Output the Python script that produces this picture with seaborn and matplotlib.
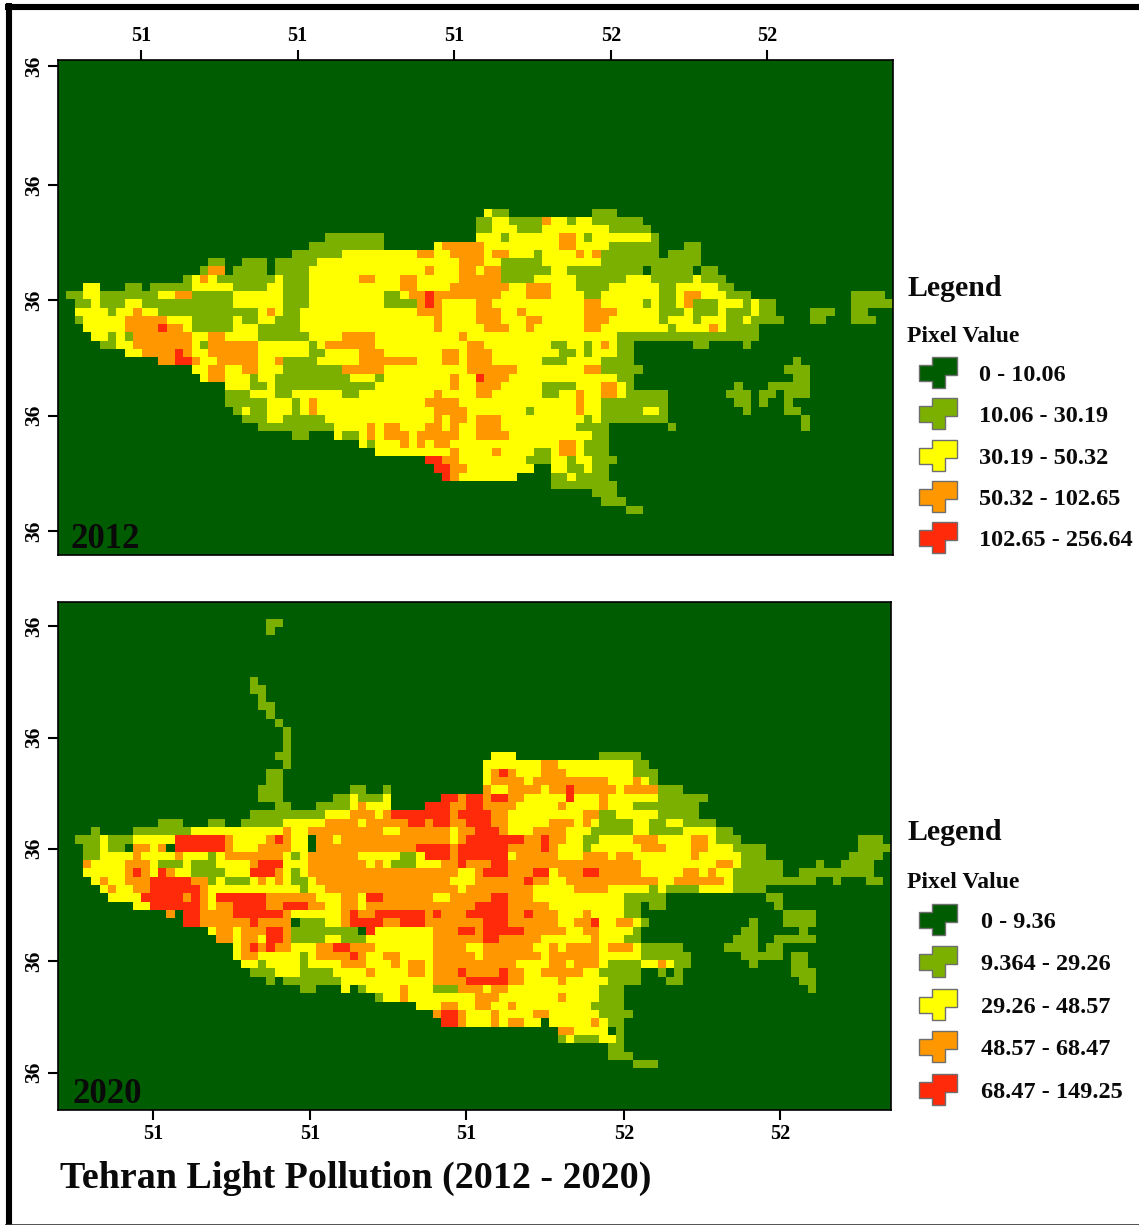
import numpy as np
import pandas as pd
import matplotlib
matplotlib.use('Agg')
import matplotlib.pyplot as plt
import seaborn as sns
from matplotlib.colors import ListedColormap
from matplotlib.patches import Polygon

# classes per raster cell, written as spans: letter + first-last column
# k=0 g=1 y=2 o=3 r=4, later spans overwrite earlier ones
class_codes = {'k': 0, 'g': 1, 'y': 2, 'o': 3, 'r': 4}
class_colors = ['#005c00', '#7bb000', '#ffff00', '#ff9800', '#ff2a0a']

first_row_2012 = 18
rows_2012 = [
    "y51 g52-53 g64-66",
    "g50-51 y52-53 g54-57 y58-63 o58 g61 g64-69",
    "g50-51 y52-54 g55-57 y58-65 g66-70",
    "g32-38 y50-70 g53 o60-61 g63 g71",
    "g30-38 y45 o46-50 y51-65 o60-61 g66-71 g75-76",
    "g28-33 y34-46 o43 o44 o47-50 y51-64 o52-53 g57 o62 o64 g65-71 g73-76",
    "g18-19 g22-24 g26-30 y31-47 o48-50 y51-64 g53-57 g65-76",
    "g17-19 o18-19 g21-24 g26-29 y30-49 o44 o48-49 y50-52 o51-52 g53-58 y59-60 g61-75 k70 g77-78",
    "g15-16 y16 o17 y18 g19-25 y26 g27-29 y30-49 o36-37 o41-42 o48-52 g53-56 y57-61 g62-67 y68-70 g71-75 y76-77 g77-79",
    "y3-4 g8-9 g11-15 y16-20 g21-24 y25-26 g27-29 y30-47 o41-42 o47-53 y54-55 o56-58 y59-61 g62-65 y66-71 g72-73 y74-78 g79-80",
    "g1-3 y3-4 g5-11 y12-13 o14-15 y16 g16-20 y21-26 g27-29 y30-46 g39-40 o42-43 r44 o45 o46-52 y53-55 o56-58 y59-62 g63-64 y65-71 g72-73 y74 o75-76 y77-79 g80-82 g95-97 g98",
    "g2-3 y4 g5-7 y8-9 g10-20 y21-26 g27-29 y30-49 g39-42 o43 r44 o45 o50-51 y52-62 o63-64 y65-69 g70 y71 g72-73 y74 o75 g76-78 y79-81 g82-85 y83 g95-99",
    "y2-5 g6 y7-11 o9 g12-22 y23-49 g23 o25 g27-28 o43-45 o50-52 y53-62 o55 o63-66 y67-71 g72-74 y75 g76-78 y79 g80-85 y83 g90-92 g95-96",
    "g2 y3-7 o8-12 y13-15 g16-20 y21 g22-23 y24-25 g26-28 y29-62 o45 o50-52 o56-57 o63-65 y66-79 g72 g76 g80-86 y82 g90-91 g95-97",
    "y3-7 o8-9 o10-14 r12 y15 g16-20 y21-23 g24-25 y26 g26-28 y29-79 o45 o51-53 o56 o63-64 g73 o78 g80-83",
    "y4-5 g6 y7 g8 o9-16 y16-66 o18-19 g24-27 g28-29 o34-37 o48 g67-83",
    "g5-6 y7-8 o9-15 y16-66 g17 o18-23 g30 o32 o33 o34-37 o49-50 g59-60 g63 o65 g67-68 g76-77 g82",
    "y8-66 o10-15 r14 o18-23 g30-31 o36-38 o46-47 o49-51 g60-61 g63 g67-68",
    "o12-13 r14-15 o16 y17-66 o19-23 o26 g27-30 o36-42 o46-47 o49-51 g58-60 g65-68 g88",
    "y16-64 o18-19 o22-23 g27-33 o34-38 o49-54 o63-64 g65-69 g87-89",
    "y17-66 o18-19 g23 g26-34 g38 o47 o50-53 r50 g67-68 g88-89",
    "y20-67 g23-24 g26-36 g37 o47 o50-52 g58-61 o65-66 g68 g81 g85-89",
    "g20-22 y23-67 g26-27 g34-35 o45 o50-51 g58-59 o62 o65-66 g68-72 g80-82 g84-85 g87-89",
    "g20-24 y25-64 g28 o30 o44-47 o62 g65-72 g81-82 g84 g87",
    "g21 y22 g23-24 y25-64 g28 o30 o45-46 o47-48 g56 o62 g65-69 y70-71 g72 g82 g87-88",
    "g22-24 y25-26 g27-31 y32-65 o45 o47-48 o50-52 g63 g65-72 g89",
    "g24-32 y33-61 o37 o39-40 o44-45 o47 o50-52 g62-65 g73 g89",
    "g28-29 y33 g34-35 y36-63 o37 o39-41 o43 o44-47 o50-53 g64-65",
    "y36-62 g37 o41 o43 o45-46 o60-61 g63-65",
    "y38-62 o47 o52 g57-58 o60-61 g63-65",
    "r44-45 o46-47 y48-55 g56-58 y59-60 g61 y62-63 g64-66",
    "r45-46 o47-48 y49-56 y59-63 g61-62 g64-65",
    "r46 o47 y48-54 g59-60 y61 g62-65",
    "g59-66",
    "g64-66",
    "g65-67",
    "g68-69",
]

first_row_2020 = 2
rows_2020 = [
    "g25-26", "g25", "", "", "", "", "", "g23", "g23-24", "g24", "g24-25", "g25",
    "g26", "g27", "g27", "g27",
    "g26-27 y52-54 g65-69",
    "g27 y51-57 o58-59 y60-68 g69-70",
    "g25-26 y51 o52-54 r53 y55-57 o58-60 y61-68 g69-71",
    "g25-26 y51 o52-55 y56 o57-65 y66-68 o69 y70 g71",
    "g24-26 g35-36 g39 o51 y52-53 o54-57 y58 o59-60 r61 o62-66 y67 o68-71 g72-74",
    "g24-26 g33-38 y35 y39 r46-47 o48 r49-50 o51 r52-53 o54-55 y56-60 r61 y62-64 o65 y66-71 g72-77",
    "g26-27 g31-34 y35 o36 y37-39 r44-46 o47-48 r49-50 o51-54 y55-59 o60 y61-64 o65 y66-68 g69-76",
    "g23-31 y32-35 o35-38 y38 o39 r40-46 o47 r48-51 o52-53 y54-62 o63-64 y65 g65-66 y67-71 g72-76",
    "g12 g13-14 g18-19 g22-26 y27-31 o32-35 y36 o37-41 r42-43 o44 r45-46 o47-48 r49-51 o52-53 y54-58 o59-61 y62 o63 y64 g65-68 y69-70 g71-72 y73-74 g75-78",
    "g4 g9-15 y16-26 o27 y28-29 o30-38 y39-40 o41-46 y47 o48-49 r50-52 o53 y54-56 o57-60 y61-63 g64-68 y69-70 g71-74 y75-78 g79-80",
    "g2 g3-4 y5 g6-8 y9-13 r14-19 o20 y21-24 o25 r26 o27 y28-29 o31-32 y33 o34-46 y47 o48 r49-55 o56-57 r58 o59-60 y61-62 g63-64 y65-68 o69-71 y72-75 o76-77 y78 g79-81 g96-98",
    "g3-4 y5 g6-7 o9-10 y11 o12 r14-19 o20 y21-23 o24-27 y28-29 o31-42 r43 o44 r44-46 o47 r48-53 o54-57 r58 o59 y60-62 g63 y64-69 o70-72 y73-75 o76-77 y78-80 g81-84 g96-99",
    "g3-4 y5-8 o9 y10-13 o14 y15-19 g18 o20-26 y27 g28 y29 o30-35 y36-40 g41-42 y43 r44-46 o47 r48-53 y54 o55-59 y60-62 o63-65 y66 o67-68 y69-75 o76 y77-81 g82-84 g95-98",
    "o3 y4-7 o8-10 y11 g12-14 y15 g16-18 y19-22 o23 r24-26 y27-29 o30-36 y37 o38 y39 g40-42 y43-45 o46-47 r48 o49-51 r52-53 o54-59 o60-69 y70-81 o79 o80 g82-86 g91 g94-97",
    "y3-7 o8 r9 o10 y11 r12 o13 y14-15 g16-19 y20-22 r23-25 o26 y27 g28 y29 o30-47 y48-49 o50 r51-53 o54-56 r57-58 y59 o60-62 r63-64 o65-69 y70-74 o75-76 y77-80 o78 g81-86 g89-93 g94-97",
    "y4 o5 y6-7 o8-10 r11-15 o16-17 y18 g18 y19 g20-22 y23 o24 y25 o26 y27 g28-29 y30 o31-46 y47-49 o50-55 r56 o57-58 y59-60 o61-71 y72-73 o74-76 o77-79 y80 g81-84 g85-88 g89-90 g93 g97-98",
    "y5 o6 y7-8 o9-10 r11-16 o17 y18-28 g29 y30-31 o32-47 y48 o49-56 y57-61 o62-65 y66-70 g71 y72 g73-76 y77-80 g81-84",
    "y6-9 r10 o11 r11-17 o15 o17 y18 r19-24 o25-30 y31-33 o34-35 y36 r37-38 o39-44 y45-46 o47-51 r52-53 o54-56 y57-67 g68-70 g71-72 g85-86",
    "y9-10 r11-16 o17-18 y18 o19-20 r21-24 o25-26 r27-29 o30-31 y32-33 o34-35 y36 o37-49 r50-53 o54-56 o57-58 y59-67 g68-69 g71-72 g86",
    "r13 o13 r15-16 o17-20 r21-26 o27 y28-33 o34-35 r35 o36-37 r38-43 o44 r45 o46-48 r49-53 o54-55 r56 o57-59 y60-62 o63 y64-67 g68-69 g87-90",
    "r15-16 o17-22 r23 o24-27 g29-31 y32-33 o34 r35-38 o39-40 r41-43 o44-50 r51-53 o54-59 y60-62 o62-63 r64 y65-66 o67-68 y69 g70 g83 g87-90",
    "y18 o19-21 y21 o22-24 r25-26 o27 g28-33 y34 g34-35 r37 y38-44 o45-47 r48-49 o50 r51-53 o54 r54-55 o56-60 y61-63 o63-64 y65-69 g69 g82-83 g89",
    "o19-20 y21 o22-23 y24 o25 r25-26 o27 g28-31 y32-33 g34-36 y37-44 o45-51 r51-52 o53-57 y58-63 o64 y65-67 g68-69 g81-83 g86-90",
    "y21 o22 r23 o24-25 r25 o26-27 y28-30 o31-32 r33-34 o35-37 y38-44 o45-48 y49-50 o51-56 y57-58 o59 y60 o61-64 y65 o66-68 y69 g70-74 g80-83 g85-86",
    "y21 o22-23 y24-28 g29 y30 o31-36 r35 y37-38 o39-40 y41-44 o45-49 y50 o51-57 y58 o59-64 y65-69 g70-75 g82-84 g85-86 g88-89",
    "y22-23 g24 y25-28 g29 y30-33 o34-36 y37-39 o40 y41 o42-43 y44 o45-54 y55-58 o59-60 y61 o62-64 y65 g66-69 y70-71 o72 y73 g74-75 g83 g88-89",
    "g23-25 y26-28 g29-32 y33-44 o37 o42-43 o45-47 r48 o49-52 r53 o54-55 y56-57 o58-62 y63-64 g65-69 g72 g74 g88-90",
    "g25 g27-33 y34-44 o45-48 r49-50 r51-53 o54-55 y56-59 o60 y61-65 g66-69 g73-74 g89-90",
    "g29-30 y34 g36 y37-44 o41 g45-47 y48 o48-50 y51 o52-53 y54-64 g65-67 g90",
    "g38 y39-49 o41 o50-52 y53-59 o60 y61-64 g65-67",
    "y43-45 o46-47 y48-49 o50-51 y52-53 o54 y55-59 y60-63 g64-67",
    "o45 r46-47 o48 y49-51 o52 y53-56 o57-58 y59-64 g65-68",
    "r46-47 o48 y49-51 o52 y53 o54-55 y56-57 y59-63 o64 y65 g66-67",
    "y60-65 o60-61 g67",
    "g60-67 y61 y65-66",
    "g66-67",
    "g66-68",
    "g69-71",
]

xticks_2012 = [9.94, 28.7, 47.4, 66.2, 84.9]
yticks_2012 = [0.73, 15.15, 29.1, 43.1, 57.1]
xticks_2020 = [11.4, 30.25, 49.0, 68.0, 86.7]
yticks_2020 = [2.9, 16.3, 29.6, 43.1, 56.5]
xlabels = ['51', '51', '51', '52', '52']
ylabels = ['36', '36', '36', '36', '36']

legend_2012 = ['0 - 10.06', '10.06 - 30.19', '30.19 - 50.32', '50.32 - 102.65', '102.65 - 256.64']
legend_2020 = ['0 - 9.36', '9.364 - 29.26', '29.26 - 48.57', '48.57 - 68.47', '68.47 - 149.25']


def make_grid(rows, first_row, nrows, ncols=100):
    grid = np.zeros((nrows, ncols), dtype=int)
    for i, row in enumerate(rows):
        for span in row.split():
            a, _, b = span[1:].partition('-')
            grid[first_row + i, int(a):int(b or a) + 1] = class_codes[span[0]]
    return pd.DataFrame(grid)


W, H = 1139, 1225
plt.rcParams['font.family'] = ['Liberation Serif', 'DejaVu Sans']
plt.rcParams['font.weight'] = 'bold'
fig = plt.figure(figsize=(W / 100, H / 100), dpi=100)
cmap = ListedColormap(class_colors)


def add_map(box, df, xticks, yticks, on_top):
    x0, y0, x1, y1 = box
    ax = fig.add_axes([x0 / W, 1 - y1 / H, (x1 - x0) / W, (y1 - y0) / H])
    sns.heatmap(df, cmap=cmap, vmin=-0.5, vmax=4.5, cbar=False, ax=ax,
                xticklabels=False, yticklabels=False)
    for s in ax.spines.values():
        s.set_visible(True)
        s.set_linewidth(1.2)
        s.set_color('black')
    ax.set_xticks(xticks)
    ax.set_xticklabels(xlabels, fontsize=14.5, fontweight='bold')
    ax.set_yticks(yticks)
    ax.set_yticklabels(ylabels, fontsize=15.5, fontweight='bold', rotation=90, va='center')
    ax.tick_params(axis='x', length=7, width=1.5, pad=3, top=on_top, labeltop=on_top,
                   bottom=not on_top, labelbottom=not on_top)
    ax.tick_params(axis='y', length=7, width=1.5, pad=3, left=True)
    ax.set_xlabel('')
    ax.set_ylabel('')
    return ax


add_map((58, 60, 893, 555), make_grid(rows_2012, first_row_2012, 60), xticks_2012, yticks_2012, True)
add_map((58, 602, 891, 1110), make_grid(rows_2020, first_row_2020, 61), xticks_2020, yticks_2020, False)

# overlay in image pixels for the frame, legends and captions
over = fig.add_axes([0, 0, 1, 1], facecolor='none')
over.set_xlim(0, W)
over.set_ylim(H, 0)
over.axis('off')

over.plot([8.5, 8.5], [3, H], color='black', lw=4.4, solid_capstyle='butt')
over.plot([5, W], [6.5, 6.5], color='black', lw=4.4, solid_capstyle='butt')
over.plot([5, W], [1224.5, 1224.5], color='#333333', lw=1.2, solid_capstyle='butt')

over.text(70, 548, '2012', fontsize=25, va='baseline', color='#0a0a0a')
over.text(73, 1103, '2020', fontsize=25, va='baseline', color='#0a0a0a')
over.text(60, 1188, 'Tehran Light Pollution (2012 - 2020)', fontsize=27.4, va='baseline', color='#0a0a0a')

swatch = np.array([[13, 0], [38, 0], [38, 18], [26, 18], [26, 31], [13, 31], [13, 24], [0, 24], [0, 8], [13, 8]])


def add_legend(title_y, sub_y, label_x, ys, labels):
    over.text(907, title_y + 2, 'Legend', fontsize=21.5, va='center', color='#0a0a0a')
    over.text(907, sub_y + 2, 'Pixel Value', fontsize=17, va='center', color='#0a0a0a')
    for y, lab, c in zip(ys, labels, class_colors):
        over.add_patch(Polygon(swatch + [919, y - 16], closed=True, facecolor=c, edgecolor='#6e6e6e', lw=1))
        over.text(label_x, y + 2.5, lab, fontsize=17.5, va='center', color='#0a0a0a')


add_legend(286, 334, 979, [373, 414, 456, 497, 538], legend_2012)
add_legend(830, 880, 981, [920, 962, 1005, 1047, 1090], legend_2020)

fig.savefig('out.png', dpi=100, facecolor='white')
